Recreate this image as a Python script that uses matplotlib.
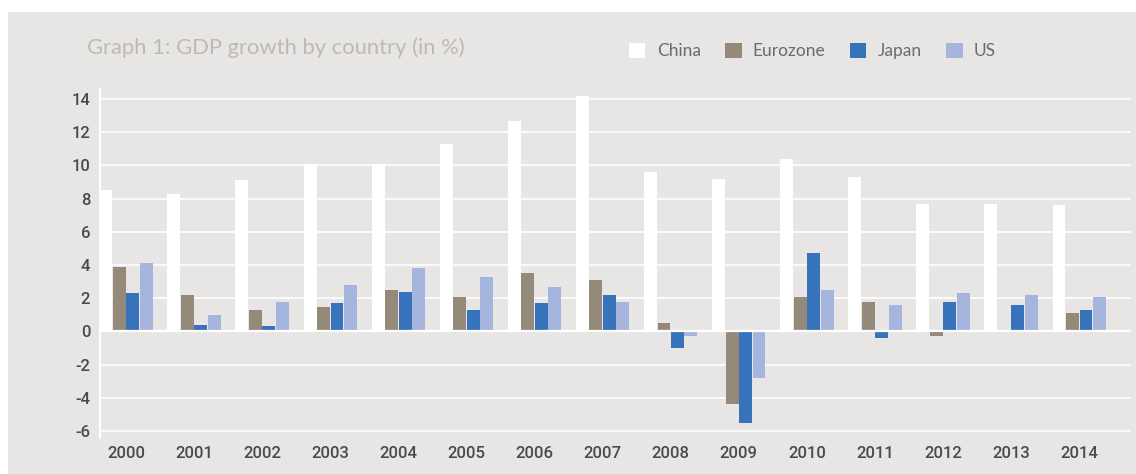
import numpy as np
import matplotlib
matplotlib.use("Agg")
import matplotlib.pyplot as plt
from matplotlib.patches import Rectangle

plt.rcParams['axes.unicode_minus'] = False

# GDP growth, % per year
years = ['2000', '2001', '2002', '2003', '2004', '2005', '2006', '2007',
         '2008', '2009', '2010', '2011', '2012', '2013', '2014']
china = [8.5, 8.3, 9.1, 10.0, 10.1, 11.3, 12.7, 14.2, 9.6, 9.2, 10.4, 9.3, 7.7, 7.7, 7.6]
eurozone = [3.9, 2.2, 1.3, 1.5, 2.5, 2.1, 3.5, 3.1, 0.5, -4.4, 2.1, 1.8, -0.3, 0.1, 1.1]
japan = [2.3, 0.4, 0.3, 1.7, 2.4, 1.3, 1.7, 2.2, -1.0, -5.5, 4.7, -0.4, 1.8, 1.6, 1.3]
us = [4.1, 1.0, 1.8, 2.8, 3.8, 3.3, 2.7, 1.8, -0.3, -2.8, 2.5, 1.6, 2.3, 2.2, 2.1]

series = [('China', china, '#FFFFFF'),
          ('Eurozone', eurozone, '#958979'),
          ('Japan', japan, '#3673BA'),
          ('US', us, '#A6B5DD')]

bg = '#E8E6E4'
W, H = 1136, 474
fig = plt.figure(figsize=(W / 100, H / 100), dpi=100, facecolor='white')
fig.patches.append(Rectangle((8 / W, 0), 1, 1 - 12 / H, transform=fig.transFigure,
                             facecolor=bg, edgecolor='none', zorder=-10))

ax = fig.add_axes([100 / W, 1 - 438 / H, (1131 - 100) / W, (438 - 89) / H])
ax.set_facecolor(bg)

x = np.arange(len(years))
width = 0.19
step = 0.198
for i, (name, vals, color) in enumerate(series):
    ax.bar(x + (i - 1.5) * step, vals, width, color=color, label=name,
           linewidth=0, zorder=2)

ax.axhline(0, color='white', lw=1.6, zorder=3)
ax.set_xlim(-0.382, 14.76)
ax.set_ylim(-6.42, 14.6)
ax.set_yticks(np.arange(-6, 15, 2))
ax.set_xticks(x)
ax.set_xticklabels(years)
ax.yaxis.grid(True, color='white', lw=1.2, zorder=1)
ax.set_axisbelow(True)

for s in ['top', 'right', 'bottom']:
    ax.spines[s].set_visible(False)
ax.spines['left'].set_color('white')
ax.spines['left'].set_linewidth(1.5)

ax.tick_params(length=0, labelsize=12, labelcolor='#4A4A4A')
ax.tick_params(axis='y', pad=7)
ax.tick_params(axis='x', pad=6)
for lab in ax.get_xticklabels() + ax.get_yticklabels():
    lab.set_family('Roboto')
    lab.set_fontweight('medium')

fig.text(87 / W, 1 - 54 / H, 'Graph 1: GDP growth by country (in %)',
         fontsize=15.8, color='#BDBAB5', family='Lato', va='baseline', ha='left')

fig.legend(loc='center left', bbox_to_anchor=(629 / W, 1 - 51 / H), ncol=4,
           frameon=False, borderpad=0, borderaxespad=0, handlelength=0.95,
           handleheight=0.95, handletextpad=0.65, columnspacing=1.4,
           prop={'family': 'Lato', 'size': 12.5}, labelcolor='#6B6B6B')

fig.savefig('out.png', dpi=100, facecolor='white')
